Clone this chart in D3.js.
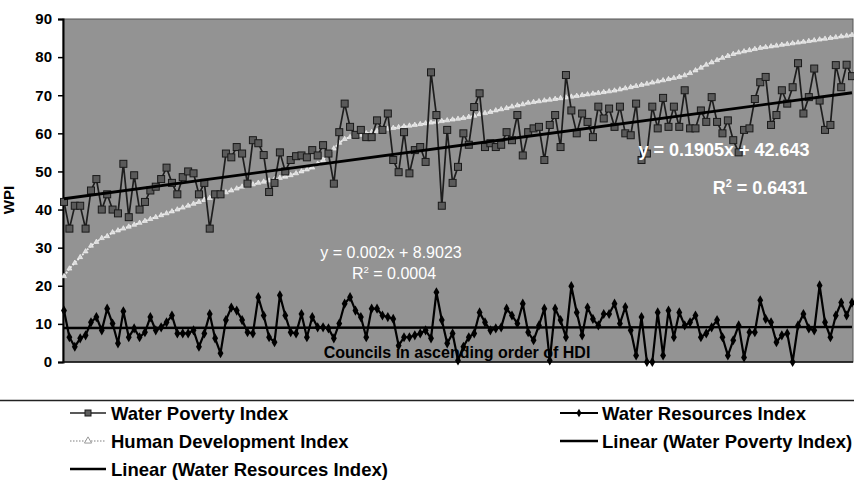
<!DOCTYPE html>
<html><head><meta charset="utf-8">
<script src="https://cdn.jsdelivr.net/npm/d3@7"></script>
<style>
body{margin:0;background:#fff}
svg{display:block}
text{font-family:"Liberation Sans",Arial,Helvetica,sans-serif;font-weight:bold}
</style>
</head><body>
<svg id="chart" width="854" height="491"></svg>
<script>
// ---------- data ----------
const wpi = [
42,35,41,41,35,45,48,40,44,40,
39,52,38,49,40,42,45,46,48,51,
47,44,48.5,50,49.5,44,47,35,44,44,
54.7,53.7,56.4,54.7,46.8,58.2,57.4,54.3,44.6,47,
55,50,53,54,54.2,53.7,55.6,54.2,56.9,54.7,
46.8,60.3,67.8,61.7,59.6,60.9,59,59,63.4,60.9,
65.2,53,49.8,60.3,49.5,55.6,56.4,52.5,76,64.8,
41,60.9,47,51.2,60,57,66.9,70.5,56.4,57.4,
56.4,57,60.3,58.2,64.8,54.2,60.3,61.3,61.7,53,
62.2,64.8,56.4,75.3,66,60,65.2,63,59,67,
63.9,66.5,61.7,67,60,59.5,67.8,53,54.7,67,
61.3,69.3,61.7,67,61.7,71.3,61.3,61.3,66,63,
69.5,63,60,63.4,58.2,55,60.9,61.3,69,73.4,
74.8,62.2,64.8,71.3,67.8,72.1,78.4,65.2,69.5,77,
68.6,60.9,62.2,77.9,72.1,78,75
];
const wri = [
13.5,6.5,4,6.2,7,10.4,11.8,8.3,14,10.1,
4.9,13.3,6.5,8.8,6.5,7.8,11.8,8.3,9.1,10.4,
12.2,7.5,7.5,7.5,8.3,4,7.5,12.6,6.2,2.3,
11,14.3,13.5,11,7.8,7.5,17,12.2,6.5,5.2,
17.5,12.2,7.8,7.5,12.6,6.5,11.8,9.1,9.1,8.8,
6.2,10.1,15.3,17,13.5,11.8,6.5,14,14,12.2,
11.8,11.3,4.3,6.5,6.5,7,7.5,8.3,6.2,18.3,
11,4.9,7.5,0.4,4,6.5,7.5,13,10.4,8.3,
8.8,9.1,14,12.2,10.1,15.3,7.8,5.7,9.6,14,
0.4,14,11,6.5,19.9,13,7,14.3,11.3,9.6,
12.6,12.6,15.3,10.1,14.4,8.3,1.7,11.8,0,0,
13,1.7,13.5,6.5,13,9.6,10.4,12.2,6.5,7.5,
9.1,11,6.5,1.7,5.7,9.6,1.2,7.8,7.8,16.2,
11.3,10.4,5.2,7,7.5,0,9.6,12.6,8.8,8.3,
20.1,10.4,6.5,12.2,15.6,12.2,15.6
];
const hdi = [
22.5,24.5,26,27.5,29,30.5,31.5,32.5,33,34,
34.5,35,35.5,36,36.5,37,37.5,38,38.5,39,
39.5,40,40.5,41,41.5,42,42.5,43,43.5,44,
44.5,45,45.5,46,46.3,46.6,47,47.3,47.6,48,
48.3,48.6,49,49.5,50,50.5,51,52,53,54.5,
56,57.5,58.5,59,59.3,59.6,60,60.3,60.6,61,
61.2,61.4,61.6,61.8,62,62.2,62.4,62.6,62.8,63,
63.2,63.4,63.6,63.8,64,64.3,64.6,65,65.3,65.6,
66,66.3,66.6,67,67.3,67.6,68,68.2,68.4,68.6,
68.8,69,69.2,69.4,69.6,69.8,70,70.2,70.4,70.6,
70.8,71,71.2,71.5,71.8,72.1,72.4,72.7,73,73.3,
73.6,73.9,74.2,74.5,74.8,75.2,75.8,76.5,77.2,78,
78.6,79.2,79.8,80.3,80.8,81.2,81.5,81.8,82.1,82.4,
82.6,82.8,83,83.2,83.4,83.6,83.8,84,84.2,84.4,
84.6,84.8,85,85.2,85.4,85.6,85.8
];
const yTicks = [0,10,20,30,40,50,60,70,80,90];
const trendWPI = [0.1905, 42.643];   // slope, intercept
const trendWRI = [0.002, 8.9023];
const eqWPI = ["y = 0.1905x + 42.643", "0.6431"];
const eqWRI = ["y = 0.002x + 8.9023", "0.0004"];
const yLabel = "WPI";
const xLabel = "Councils in ascending order of HDI";
const legendNames = ["Water Poverty Index","Human Development Index","Linear (Water Resources Index)",
                     "Water Resources Index","Linear (Water Poverty Index)"];

// ---------- layout ----------
const svg = d3.select("#chart");
const plot = {left:63, top:19, right:853, bottom:362};
const n = wpi.length;
const idx = d3.range(1, n + 1);
const x = d3.scaleLinear().domain([1, n]).range([64, 852]);
const y = d3.scaleLinear().domain([0, 90]).range([plot.bottom, plot.top]);

// background
svg.append("rect").attr("x", plot.left).attr("y", plot.top)
  .attr("width", plot.right - plot.left).attr("height", plot.bottom - plot.top)
  .attr("fill", "#939393").attr("stroke", "#555").attr("stroke-width", 1);

// y axis
const ya = svg.append("g").attr("transform", `translate(${plot.left},0)`)
  .call(d3.axisLeft(y).tickValues(yTicks).tickSize(5).tickPadding(6).tickFormat(d3.format("d")));
ya.select(".domain").attr("stroke", "#000").attr("stroke-width", 2);
ya.selectAll(".tick line").attr("stroke", "#000").attr("stroke-width", 1.5);
ya.selectAll("text").attr("font-size", 15).attr("fill", "#000")
  .style("font-family", '"Liberation Sans",Arial,sans-serif').style("font-weight", "bold");

// x axis line
svg.append("line").attr("x1", plot.left).attr("x2", plot.right)
  .attr("y1", y(0)).attr("y2", y(0)).attr("stroke", "#111").attr("stroke-width", 1.5);

// y label
svg.append("text").attr("transform", "translate(14,200) rotate(-90)")
  .attr("text-anchor", "middle").attr("font-size", 15).text(yLabel);

// HDI series
const lineGen = arr => d3.line().x((d, i) => x(idx[i])).y(d => y(d))(arr);
svg.append("path").attr("d", lineGen(hdi)).attr("fill", "none")
  .attr("stroke", "#ececec").attr("stroke-width", 1.8).attr("stroke-dasharray", "2,1.5");
svg.append("g").selectAll("path").data(hdi).join("path")
  .attr("d", d3.symbol(d3.symbolTriangle, 11)())
  .attr("transform", (d, i) => `translate(${x(idx[i])},${y(d)})`)
  .attr("fill", "#dcdcdc").attr("stroke", "#f6f6f6").attr("stroke-width", 0.6);

// WPI series
svg.append("path").attr("d", lineGen(wpi)).attr("fill", "none")
  .attr("stroke", "#1e1e1e").attr("stroke-width", 1.7);
svg.append("g").selectAll("rect").data(wpi).join("rect")
  .attr("x", (d, i) => x(idx[i]) - 3.5).attr("y", d => y(d) - 3.5)
  .attr("width", 7).attr("height", 7)
  .attr("fill", "#5a5a5a").attr("stroke", "#1a1a1a").attr("stroke-width", 1);

// WRI series
svg.append("path").attr("d", lineGen(wri)).attr("fill", "none")
  .attr("stroke", "#000").attr("stroke-width", 2.2);
svg.append("g").selectAll("path").data(wri).join("path")
  .attr("d", d3.symbol(d3.symbolDiamond, 30)())
  .attr("transform", (d, i) => `translate(${x(idx[i])},${y(d)})`)
  .attr("fill", "#000");

// trend lines
const trendLine = t => d3.line().x(d => x(d)).y(d => y(t[0] * d + t[1]))([1, n]);
svg.append("path").attr("d", trendLine(trendWPI)).attr("stroke", "#000")
  .attr("stroke-width", 2.8).attr("fill", "none");
svg.append("path").attr("d", trendLine(trendWRI)).attr("stroke", "#000")
  .attr("stroke-width", 2.4).attr("fill", "none");

// equation labels
function rsq(g, val, fs) {
  g.append("tspan").text("R");
  g.append("tspan").attr("font-size", fs * 0.6).attr("dy", -fs * 0.4).text("2");
  g.append("tspan").attr("dy", fs * 0.4).text(" = " + val);
}
svg.append("text").attr("x", 724).attr("y", 156).attr("text-anchor", "middle")
  .attr("font-size", 18).attr("fill", "#fff").text(eqWPI[0]);
rsq(svg.append("text").attr("x", 760).attr("y", 194).attr("text-anchor", "middle")
  .attr("font-size", 18).attr("fill", "#fff"), eqWPI[1], 18);
svg.append("text").attr("x", 391).attr("y", 258).attr("text-anchor", "middle")
  .attr("font-size", 16).attr("fill", "#fff").style("font-weight", "normal").text(eqWRI[0]);
rsq(svg.append("text").attr("x", 394).attr("y", 279).attr("text-anchor", "middle")
  .attr("font-size", 16).attr("fill", "#fff").style("font-weight", "normal"), eqWRI[1], 16);

// x label (inside plot)
svg.append("text").attr("x", 457).attr("y", 358).attr("text-anchor", "middle")
  .attr("font-size", 16).attr("fill", "#000").text(xLabel);

// legend separator
svg.append("line").attr("x1", 0).attr("x2", 854).attr("y1", 400.5).attr("y2", 400.5)
  .attr("stroke", "#222").attr("stroke-width", 1.5);

// legend
const legItems = [
  {col:0, row:0, type:"wpi"}, {col:0, row:1, type:"hdi"}, {col:0, row:2, type:"lin"},
  {col:1, row:0, type:"wri"}, {col:1, row:1, type:"lin"}
];
const colX = [[70, 106, 111], [560, 598, 602]];
const rowY = [413, 441, 469];
const lg = svg.append("g");
legItems.forEach((it, k) => {
  const [x0, x1, tx] = colX[it.col];
  const yy = rowY[it.row];
  const mx = (x0 + x1) / 2;
  if (it.type === "wpi") {
    lg.append("line").attr("x1", x0).attr("x2", x1).attr("y1", yy).attr("y2", yy)
      .attr("stroke", "#222").attr("stroke-width", 1.6);
    lg.append("rect").attr("x", mx - 3).attr("y", yy - 3).attr("width", 6).attr("height", 6)
      .attr("fill", "#5e5e5e").attr("stroke", "#1a1a1a");
  } else if (it.type === "hdi") {
    lg.append("line").attr("x1", x0).attr("x2", x1).attr("y1", yy).attr("y2", yy)
      .attr("stroke", "#aaa").attr("stroke-width", 1.3).attr("stroke-dasharray", "1.5,1.5");
    lg.append("path").attr("d", d3.symbol(d3.symbolTriangle, 22)())
      .attr("transform", `translate(${mx},${yy})`).attr("fill", "#fff").attr("stroke", "#999");
  } else if (it.type === "wri") {
    lg.append("line").attr("x1", x0).attr("x2", x1).attr("y1", yy).attr("y2", yy)
      .attr("stroke", "#000").attr("stroke-width", 2);
    lg.append("path").attr("d", d3.symbol(d3.symbolDiamond, 22)())
      .attr("transform", `translate(${mx},${yy})`).attr("fill", "#000");
  } else {
    lg.append("line").attr("x1", x0).attr("x2", x1).attr("y1", yy).attr("y2", yy)
      .attr("stroke", "#000").attr("stroke-width", 2.5);
  }
  const name = legendNames[it.col === 0 ? it.row : 3 + it.row];
  lg.append("text").attr("x", tx).attr("y", yy + 6.5).attr("font-size", 18.5)
    .attr("fill", "#000").text(name);
});
</script>
</body></html>
